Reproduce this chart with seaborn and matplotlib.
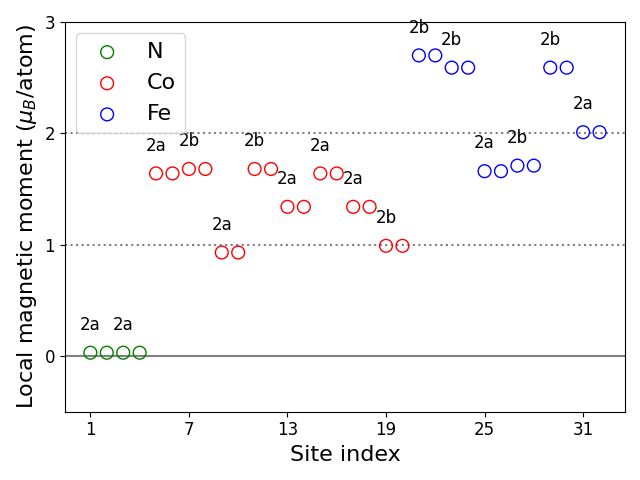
import numpy as np
import seaborn as sns
import matplotlib.pyplot as plt

# site indices and local moments per element
n_sites = [1, 2, 3, 4]
n_moments = [0.03, 0.03, 0.03, 0.03]

co_sites = list(range(5, 21))
co_moments = [1.64, 1.64, 1.68, 1.68, 0.93, 0.93, 1.68, 1.68,
              1.34, 1.34, 1.64, 1.64, 1.34, 1.34, 0.99, 0.99]

fe_sites = list(range(21, 33))
fe_moments = [2.70, 2.70, 2.59, 2.59, 1.66, 1.66, 1.71, 1.71,
              2.59, 2.59, 2.01, 2.01]

# Wyckoff labels placed above the first site of each pair
label_sites = [1, 3, 5, 7, 9, 11, 13, 15, 17, 19, 21, 23, 25, 27, 29, 31]
label_texts = ["2a", "2a", "2a", "2b", "2a", "2b", "2a", "2a", "2a", "2b",
               "2b", "2b", "2a", "2b", "2b", "2a"]

if __name__ == '__main__':
    fig, ax = plt.subplots(figsize=(6.4, 4.8), dpi=100)

    ax.axhline(0, color='gray', lw=1.5, zorder=0)
    ax.axhline(1, color='gray', lw=1.5, ls=':', zorder=0)
    ax.axhline(2, color='gray', lw=1.5, ls=':', zorder=0)

    for xs, ys, c, name in [(n_sites, n_moments, 'green', 'N'),
                            (co_sites, co_moments, 'red', 'Co'),
                            (fe_sites, fe_moments, 'blue', 'Fe')]:
        sns.scatterplot(x=xs, y=ys, ax=ax, s=85, marker='o',
                        facecolor='none', edgecolor=c, linewidth=1.0, label=name)

    all_sites = n_sites + co_sites + fe_sites
    all_moments = n_moments + co_moments + fe_moments
    lookup = dict(zip(all_sites, all_moments))
    for s, t in zip(label_sites, label_texts):
        ax.text(s, lookup[s] + 0.25, t, fontsize=12, ha='center', va='center')

    ax.set_ylim(-0.5, 3)
    ax.set_yticks([0, 1, 2, 3])
    ax.set_xticks([1, 7, 13, 19, 25, 31])
    ax.tick_params(labelsize=12)
    ax.set_xlabel("Site index", fontsize=16)
    ax.set_ylabel(r"Local magnetic moment ($\mu_B$/atom)", fontsize=16)
    ax.legend(loc='upper left', fontsize=16)

    plt.tight_layout()
    plt.savefig("out.png")
